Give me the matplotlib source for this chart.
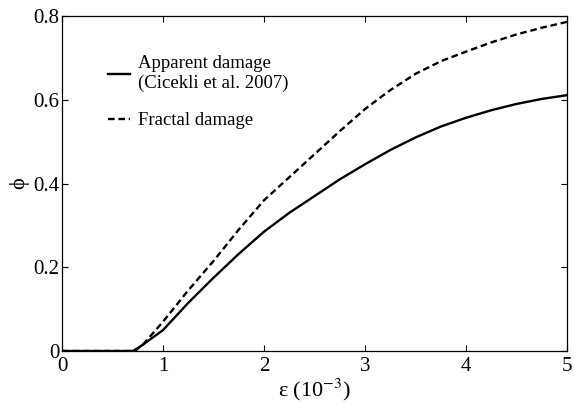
import numpy as np
import matplotlib.pyplot as plt
from matplotlib.lines import Line2D

plt.rcParams['font.family'] = ['Liberation Serif', 'DejaVu Serif']
plt.rcParams['mathtext.fontset'] = 'stix'

# strain (x 1e-3) and damage values
eps_apparent = [0, 0.70, 0.75, 0.80, 1.00, 1.25, 1.50, 1.75, 2.00, 2.25, 2.50,
                2.75, 3.00, 3.25, 3.50, 3.75, 4.00, 4.25, 4.50, 4.75, 5.00]
phi_apparent = [0, 0, 0.007, 0.015, 0.050, 0.115, 0.175, 0.232, 0.285, 0.330, 0.370,
                0.410, 0.446, 0.480, 0.510, 0.536, 0.557, 0.575, 0.590, 0.602, 0.611]

eps_fractal = [0, 0.72, 0.80, 1.00, 1.25, 1.50, 1.75, 2.00, 2.25, 2.50,
               2.75, 3.00, 3.25, 3.50, 3.75, 4.00, 4.25, 4.50, 4.75, 5.00]
phi_fractal = [0, 0, 0.015, 0.070, 0.145, 0.215, 0.290, 0.360, 0.415, 0.470,
               0.525, 0.578, 0.623, 0.662, 0.692, 0.715, 0.737, 0.756, 0.772, 0.786]

xticks = [0, 1, 2, 3, 4, 5]
yticks = [0, 0.2, 0.4, 0.6, 0.8]
ytick_labels = ['0', '0.2', '0.4', '0.6', '0.8']

fig = plt.figure(figsize=(5.74, 4.05), dpi=100)
ax = fig.add_axes([0.108, 0.1333, 0.880, 0.8272])

dash = (0, (2.8, 1.6))
ax.plot(eps_apparent, phi_apparent, color='black', lw=1.7)
ax.plot(eps_fractal, phi_fractal, color='black', lw=1.7, linestyle=dash)

ax.set_xlim(0, 5)
ax.set_ylim(0, 0.8)
ax.set_xticks(xticks)
ax.set_xticklabels([str(t) for t in xticks])
ax.set_yticks(yticks)
ax.set_yticklabels(ytick_labels)
ax.tick_params(direction='in', top=True, right=True, length=4, width=0.8,
               labelsize=15)
ax.tick_params(axis='x', pad=4)
ax.tick_params(axis='y', pad=2)
for s in ax.spines.values():
    s.set_linewidth(0.9)

ax.set_xlabel('ε (10$^{-3}$)', fontsize=16, labelpad=1)
ax.set_ylabel('ϕ', fontsize=16, rotation=90, labelpad=3)

handles = [Line2D([], [], color='black', lw=1.7),
           Line2D([], [], color='black', lw=1.7, linestyle=dash)]
labels = ['Apparent damage\n(Cicekli et al. 2007)', 'Fractal damage']
ax.legend(handles, labels, loc='upper left', bbox_to_anchor=(0.077, 0.905),
          frameon=False, fontsize=13.5, handlelength=1.15, handletextpad=0.45,
          labelspacing=1.05, borderaxespad=0)

fig.savefig('out.png', dpi=100)
